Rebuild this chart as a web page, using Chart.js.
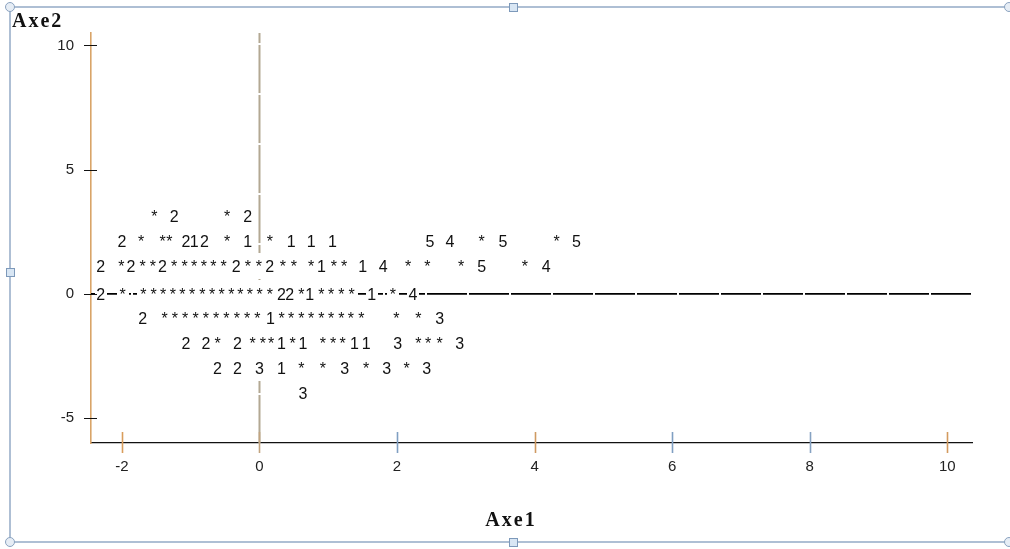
<!DOCTYPE html>
<html>
<head>
<meta charset="utf-8">
<title>Axe1 / Axe2</title>
<script src="https://cdn.jsdelivr.net/npm/chart.js@4/dist/chart.umd.min.js"></script>
<style>
html, body { margin: 0; padding: 0; background: #ffffff; }
canvas { display: block; }
</style>
</head>
<body>
<canvas id="plot" width="1010" height="549"></canvas>
<script>
// Axis ticks and ranges
const xTickValues = [-2, 0, 2, 4, 6, 8, 10];
const yTickValues = [-5, 0, 5, 10];
const xRange = [-2.45, 10.36];
const yRange = [-6, 10.5];

// Plot symbols, one row per level of Axe2 ('*' = single point, digit = point count / group)
const rowLevels = [3.1, 2.1, 1.1, 0, -1, -2, -3, -4];

const row3X = [-1.53, -1.24, -0.47, -0.17];
const row3Mark = '*2*2';

const row2X = [-2.00, -1.72, -1.41, -1.31, -1.07, -0.95, -0.80, -0.47, -0.17, 0.15,
               0.46, 0.75, 1.06, 2.48, 2.77, 3.23, 3.54, 4.32, 4.61];
const row2Mark = '2***212*1*11154*5*5';

const row1X = [-2.31, -2.01, -1.87, -1.70, -1.55, -1.41, -1.24, -1.09, -0.95, -0.81,
               -0.67, -0.52, -0.34, -0.17, -0.01, 0.15, 0.34, 0.50, 0.75, 0.90,
               1.08, 1.23, 1.50, 1.80, 2.16, 2.44, 2.93, 3.23, 3.86, 4.17];
const row1Mark = '2*2**2******2**2***1**14***5*4';

const row0X = [-2.31, -1.99, -1.69, -1.54, -1.40, -1.26, -1.12, -0.98, -0.83, -0.69,
               -0.55, -0.41, -0.28, -0.14, 0.00, 0.15, 0.32, 0.44, 0.61, 0.73,
               0.90, 1.04, 1.19, 1.34, 1.63, 1.94, 2.23];
const row0Mark = '2***************22*1****1*4';

const rowM1X = [-1.70, -1.38, -1.23, -1.08, -0.93, -0.78, -0.63, -0.48, -0.33, -0.18,
                -0.03, 0.16, 0.32, 0.46, 0.61, 0.75, 0.90, 1.04, 1.19, 1.33,
                1.48, 1.99, 2.31, 2.62];
const rowM1Mark = '2**********1***********3';

const rowM2X = [-1.07, -0.78, -0.61, -0.32, -0.10, 0.05, 0.17, 0.32, 0.48, 0.63,
                0.92, 1.07, 1.21, 1.38, 1.55, 2.01, 2.31, 2.45, 2.62, 2.91];
const rowM2Mark = '22*2***1*1***113***3';

const rowM3X = [-0.61, -0.32, 0.00, 0.32, 0.61, 0.92, 1.24, 1.55, 1.85, 2.14, 2.43];
const rowM3Mark = '2231**3*3*3';

const rowM4X = [0.63];
const rowM4Mark = '3';

const rowXs = [row3X, row2X, row1X, row0X, rowM1X, rowM2X, rowM3X, rowM4X];
const rowMarks = [row3Mark, row2Mark, row1Mark, row0Mark, rowM1Mark, rowM2Mark, rowM3Mark, rowM4Mark];

const symbolFont = '16px "Liberation Sans", Arial, sans-serif';

const symbolDatasets = rowLevels.map((level, r) => ({
  label: 'row ' + level,
  data: rowXs[r].map(x => ({ x: x, y: level })),
  symbols: rowMarks[r].split(''),
  pointRadius: 0,
  pointHoverRadius: 0,
  showLine: false
}));

// Reference lines at Axe1 = 0 and Axe2 = 0
const refLines = [
  {
    label: 'ref-h',
    data: [{ x: xRange[0], y: 0 }, { x: xRange[1], y: 0 }],
    showLine: true, borderColor: '#000000', borderWidth: 1.6,
    borderDash: [40, 2], pointRadius: 0
  },
  {
    label: 'ref-v',
    data: [{ x: 0, y: yRange[0] }, { x: 0, y: yRange[1] }],
    showLine: true, borderColor: '#b3a893', borderWidth: 2,
    borderDash: [48, 2], pointRadius: 0
  }
];

// Draws each symbol as text, blanking its character cell first
const symbolPlugin = {
  id: 'plotSymbols',
  afterDatasetsDraw(chart) {
    const ctx = chart.ctx;
    ctx.save();
    ctx.fillStyle = '#ffffff';
    chart.data.datasets.forEach((ds, i) => {
      if (!ds.symbols) return;
      chart.getDatasetMeta(i).data.forEach(pt => {
        ctx.fillRect(Math.floor(pt.x - 5.5), Math.floor(pt.y - 13), 12, 26);
      });
    });
    ctx.font = symbolFont;
    ctx.fillStyle = '#111111';
    ctx.textAlign = 'center';
    ctx.textBaseline = 'alphabetic';
    chart.data.datasets.forEach((ds, i) => {
      if (!ds.symbols) return;
      chart.getDatasetMeta(i).data.forEach((pt, j) => {
        ctx.fillText(ds.symbols[j], pt.x, pt.y + 5.6);
      });
    });
    ctx.restore();
  }
};

// Tick marks crossing the axes, axis titles and the surrounding frame
const xTickColors = ['#d99d5c', '#c2a47f', '#7f9fc2', '#cf9a62', '#7f9fc2', '#86a2c2', '#d39a5e'];
const decorPlugin = {
  id: 'decor',
  afterDraw(chart) {
    const ctx = chart.ctx;
    const xs = chart.scales.x, ys = chart.scales.y;
    const area = chart.chartArea;
    ctx.save();
    ctx.lineWidth = 1.6;
    xTickValues.forEach((v, i) => {
      const px = Math.round(xs.getPixelForValue(v)) + 0.5;
      ctx.strokeStyle = xTickColors[i % xTickColors.length];
      ctx.beginPath();
      ctx.moveTo(px, area.bottom - 11);
      ctx.lineTo(px, area.bottom + 10);
      ctx.stroke();
    });
    ctx.lineWidth = 1;
    ctx.strokeStyle = '#111111';
    yTickValues.forEach(v => {
      const py = Math.round(ys.getPixelForValue(v)) + 0.5;
      ctx.beginPath();
      ctx.moveTo(area.left - 7, py);
      ctx.lineTo(area.left + 6, py);
      ctx.stroke();
    });

    ctx.fillStyle = '#111111';
    ctx.font = 'bold 20px "Liberation Serif", "Times New Roman", serif';
    ctx.letterSpacing = '2px';
    ctx.textAlign = 'left';
    ctx.textBaseline = 'alphabetic';
    ctx.fillText('Axe2', 12, 27);
    ctx.textAlign = 'center';
    ctx.fillText('Axe1', 511, 526);
    ctx.letterSpacing = '0px';

    // selection frame with handles
    ctx.strokeStyle = '#94abc6';
    ctx.lineWidth = 1.5;
    ctx.beginPath();
    ctx.moveTo(1010, 7); ctx.lineTo(10, 7); ctx.lineTo(10, 542); ctx.lineTo(1010, 542);
    ctx.stroke();
    ctx.fillStyle = '#e6edf5';
    ctx.strokeStyle = '#8aa2bf';
    ctx.lineWidth = 1;
    [[10, 7], [10, 542], [1009, 7], [1009, 542]].forEach(([cx, cy]) => {
      ctx.beginPath();
      ctx.arc(cx, cy, 4.5, 0, Math.PI * 2);
      ctx.fill();
      ctx.stroke();
    });
    ctx.fillStyle = '#d8e6f4';
    ctx.strokeStyle = '#7d99ba';
    [[513, 7], [10, 272], [513, 542]].forEach(([cx, cy]) => {
      ctx.fillRect(cx - 4, cy - 4, 8, 8);
      ctx.strokeRect(cx - 3.5, cy - 3.5, 8, 8);
    });
    ctx.restore();
  }
};

const tickFont = { family: '"Liberation Sans", Arial, sans-serif', size: 15 };

new Chart(document.getElementById('plot'), {
  type: 'scatter',
  data: { datasets: refLines.concat(symbolDatasets) },
  options: {
    responsive: false,
    animation: false,
    events: [],
    layout: { padding: { left: 0, top: 33, right: 38, bottom: 0 } },
    plugins: { legend: { display: false }, tooltip: { enabled: false }, title: { display: false } },
    scales: {
      x: {
        type: 'linear',
        min: xRange[0], max: xRange[1],
        afterBuildTicks: s => { s.ticks = xTickValues.map(v => ({ value: v })); },
        afterFit: s => { s.height = 106; },
        grid: { display: false, drawTicks: false },
        border: { display: true, color: '#111111', width: 1.3 },
        ticks: { color: '#222222', font: tickFont, padding: 15, maxRotation: 0 }
      },
      y: {
        type: 'linear',
        min: yRange[0], max: yRange[1],
        afterBuildTicks: s => { s.ticks = yTickValues.map(v => ({ value: v })); },
        afterFit: s => { s.width = 91; },
        grid: { display: false, drawTicks: false },
        border: { display: true, color: '#d9a468', width: 1.6 },
        ticks: { color: '#222222', font: tickFont, padding: 17 }
      }
    }
  },
  plugins: [symbolPlugin, decorPlugin]
});
</script>
</body>
</html>
